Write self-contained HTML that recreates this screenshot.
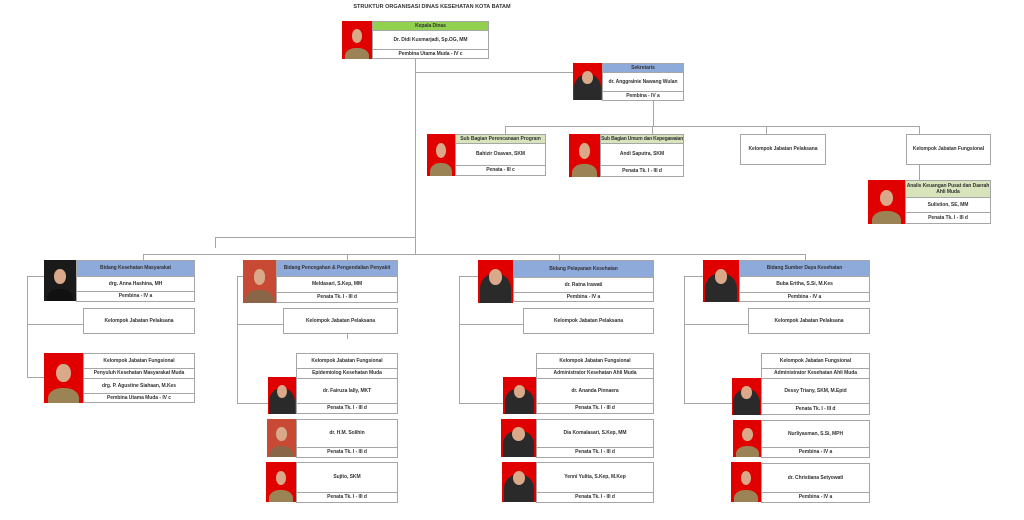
<!DOCTYPE html>
<html><head><meta charset="utf-8">
<style>
*{margin:0;padding:0;box-sizing:border-box}
body{width:1024px;height:520px;background:#fff;position:relative;overflow:hidden;font-family:"Liberation Sans",sans-serif}
.c{position:absolute;border:1px solid #a6a6a6;display:flex;align-items:center;justify-content:center;text-align:center;font-weight:bold;font-size:5px;color:#333;line-height:1.25;background:#fff;white-space:nowrap;letter-spacing:-0.05px}
.g{background:#92d050}
.b{background:#8eaadb}
.lg{background:#d8e4bc}
.h{position:absolute;height:1px;background:#a6a6a6}
.v{position:absolute;width:1px;background:#a6a6a6}
.p{position:absolute;background:#e00000;overflow:hidden}
.p::before{content:"";position:absolute;left:10%;right:10%;bottom:-15%;height:45%;border-radius:45% 45% 0 0;background:#9c8356}
.p::after{content:"";position:absolute;left:32%;width:36%;top:22%;height:36%;border-radius:50%;background:#d9a98a}
.p.hj::before{background:#2a2a2a;left:5%;right:5%;height:75%;bottom:-5%;border-radius:50% 50% 0 0}
.p.dk{background:#1a1a1a}
.p.dk::before{background:#111}
.p.br{background:#c84a35}
.p.br::before{background:#8a6648}
.t{position:absolute;left:332px;top:4px;width:200px;text-align:center;font-weight:bold;font-size:5.5px;color:#333}
</style></head><body>
<div class="t">STRUKTUR ORGANISASI DINAS KESEHATAN KOTA BATAM</div>

<div class="v" style="left:415px;top:59px;height:196px"></div>
<div class="h" style="left:415px;top:72px;width:158px"></div>
<div class="v" style="left:653px;top:100px;height:26px"></div>
<div class="h" style="left:505px;top:126px;width:414px"></div>
<div class="v" style="left:505px;top:126px;height:8px"></div>
<div class="v" style="left:652px;top:126px;height:8px"></div>
<div class="v" style="left:766px;top:126px;height:8px"></div>
<div class="v" style="left:919px;top:126px;height:8px"></div>
<div class="v" style="left:919px;top:165px;height:15px"></div>
<div class="h" style="left:215px;top:237px;width:200px"></div>
<div class="v" style="left:215px;top:237px;height:11px"></div>
<div class="h" style="left:143px;top:254px;width:662px"></div>
<div class="v" style="left:143px;top:254px;height:6px"></div>
<div class="v" style="left:347px;top:254px;height:6px"></div>
<div class="v" style="left:559px;top:254px;height:6px"></div>
<div class="v" style="left:805px;top:254px;height:6px"></div>

<div class="v" style="left:27px;top:276px;height:102px"></div>
<div class="h" style="left:27px;top:276px;width:17px"></div>
<div class="h" style="left:27px;top:324px;width:56px"></div>
<div class="h" style="left:27px;top:377px;width:17px"></div>

<div class="v" style="left:237px;top:276px;height:127px"></div>
<div class="h" style="left:237px;top:276px;width:6px"></div>
<div class="h" style="left:237px;top:324px;width:46px"></div>
<div class="h" style="left:237px;top:403px;width:31px"></div>
<div class="v" style="left:347px;top:333px;height:6px"></div>

<div class="v" style="left:459px;top:276px;height:127px"></div>
<div class="h" style="left:459px;top:276px;width:19px"></div>
<div class="h" style="left:459px;top:324px;width:64px"></div>
<div class="h" style="left:459px;top:403px;width:44px"></div>

<div class="v" style="left:684px;top:276px;height:127px"></div>
<div class="h" style="left:684px;top:276px;width:19px"></div>
<div class="h" style="left:684px;top:324px;width:64px"></div>
<div class="h" style="left:684px;top:403px;width:48px"></div>

<div class="p" style="left:342px;top:21px;width:30px;height:38px"></div>
<div class="c g" style="left:372px;top:21px;width:117px;height:10px">Kepala Dinas</div>
<div class="c" style="left:372px;top:30px;width:117px;height:20px">Dr. Didi Kusmarjadi, Sp.OG, MM</div>
<div class="c" style="left:372px;top:49px;width:117px;height:10px">Pembina Utama Muda - IV c</div>

<div class="p hj" style="left:573px;top:63px;width:29px;height:37px"></div>
<div class="c b" style="left:602px;top:63px;width:82px;height:10px">Sekretaris</div>
<div class="c" style="left:602px;top:72px;width:82px;height:20px">dr. Anggrainie Nawang Wulan</div>
<div class="c" style="left:602px;top:91px;width:82px;height:10px">Pembina - IV a</div>

<div class="p" style="left:427px;top:134px;width:28px;height:42px"></div>
<div class="c lg" style="left:455px;top:134px;width:91px;height:10px">Sub Bagian Perencanaan Program</div>
<div class="c" style="left:455px;top:143px;width:91px;height:23px">Bahizir Osavan, SKM</div>
<div class="c" style="left:455px;top:165px;width:91px;height:11px">Penata - III c</div>

<div class="p" style="left:569px;top:134px;width:31px;height:43px"></div>
<div class="c lg" style="left:600px;top:134px;width:84px;height:10px;letter-spacing:-0.2px">Sub Bagian Umum dan Kepegawaian</div>
<div class="c" style="left:600px;top:143px;width:84px;height:23px">Andi Saputra, SKM</div>
<div class="c" style="left:600px;top:165px;width:84px;height:12px">Penata Tk. I - III d</div>

<div class="c" style="left:740px;top:134px;width:86px;height:31px">Kelompok Jabatan Pelaksana</div>
<div class="c" style="left:906px;top:134px;width:85px;height:31px">Kelompok Jabatan Fungsional</div>

<div class="p" style="left:868px;top:180px;width:37px;height:44px"></div>
<div class="c lg" style="left:905px;top:180px;width:86px;height:18px">Analis Keuangan Pusat dan Daerah<br>Ahli Muda</div>
<div class="c" style="left:905px;top:197px;width:86px;height:16px">Sulistion, SE, MM</div>
<div class="c" style="left:905px;top:212px;width:86px;height:12px">Penata Tk. I - III d</div>

<div class="p dk" style="left:44px;top:260px;width:32px;height:41px"></div>
<div class="c b" style="left:76px;top:260px;width:119px;height:17px">Bidang Kesehatan Masyarakat</div>
<div class="c" style="left:76px;top:276px;width:119px;height:16px">drg. Anna Hashina, MH</div>
<div class="c" style="left:76px;top:291px;width:119px;height:11px">Pembina - IV a</div>
<div class="c" style="left:83px;top:308px;width:112px;height:26px">Kelompok Jabatan Pelaksana</div>
<div class="p" style="left:44px;top:353px;width:39px;height:50px"></div>
<div class="c" style="left:83px;top:353px;width:112px;height:16px">Kelompok Jabatan Fungsional</div>
<div class="c" style="left:83px;top:368px;width:112px;height:11px">Penyuluh Kesehatan Masyarakat Muda</div>
<div class="c" style="left:83px;top:378px;width:112px;height:16px">drg. P. Agustine Siahaan, M.Kes</div>
<div class="c" style="left:83px;top:393px;width:112px;height:10px">Pembina Utama Muda - IV c</div>

<div class="p br" style="left:243px;top:260px;width:33px;height:43px"></div>
<div class="c b" style="left:276px;top:260px;width:122px;height:17px">Bidang Pencegahan &amp; Pengendalian Penyakit</div>
<div class="c" style="left:276px;top:276px;width:122px;height:17px">Meldasari, S.Kep, MM</div>
<div class="c" style="left:276px;top:292px;width:122px;height:11px">Penata Tk. I - III d</div>
<div class="c" style="left:283px;top:308px;width:115px;height:26px">Kelompok Jabatan Pelaksana</div>
<div class="c" style="left:296px;top:353px;width:102px;height:16px">Kelompok Jabatan Fungsional</div>
<div class="c" style="left:296px;top:368px;width:102px;height:11px">Epidemiolog Kesehatan Muda</div>
<div class="p hj" style="left:268px;top:377px;width:28px;height:37px"></div>
<div class="c" style="left:296px;top:378px;width:102px;height:26px">dr. Fairuza Ially, MKT</div>
<div class="c" style="left:296px;top:403px;width:102px;height:11px">Penata Tk. I - III d</div>
<div class="p br" style="left:267px;top:419px;width:29px;height:38px"></div>
<div class="c" style="left:296px;top:419px;width:102px;height:29px">dr. H.M. Solihin</div>
<div class="c" style="left:296px;top:447px;width:102px;height:11px">Penata Tk. I - III d</div>
<div class="p" style="left:266px;top:462px;width:30px;height:40px"></div>
<div class="c" style="left:296px;top:462px;width:102px;height:31px">Sujito, SKM</div>
<div class="c" style="left:296px;top:492px;width:102px;height:11px">Penata Tk. I - III d</div>

<div class="p hj" style="left:478px;top:260px;width:35px;height:43px"></div>
<div class="c b" style="left:513px;top:260px;width:141px;height:18px">Bidang Pelayanan Kesehatan</div>
<div class="c" style="left:513px;top:277px;width:141px;height:16px">dr. Ratna Irawati</div>
<div class="c" style="left:513px;top:292px;width:141px;height:10px">Pembina - IV a</div>
<div class="c" style="left:523px;top:308px;width:131px;height:26px">Kelompok Jabatan Pelaksana</div>
<div class="c" style="left:536px;top:353px;width:118px;height:16px">Kelompok Jabatan Fungsional</div>
<div class="c" style="left:536px;top:368px;width:118px;height:11px">Administrator Kesehatan Ahli Muda</div>
<div class="p hj" style="left:503px;top:377px;width:33px;height:37px"></div>
<div class="c" style="left:536px;top:378px;width:118px;height:26px">dr. Ananda Pinnaera</div>
<div class="c" style="left:536px;top:403px;width:118px;height:11px">Penata Tk. I - III d</div>
<div class="p hj" style="left:501px;top:419px;width:35px;height:38px"></div>
<div class="c" style="left:536px;top:419px;width:118px;height:29px">Dia Komalasari, S.Kep, MM</div>
<div class="c" style="left:536px;top:447px;width:118px;height:11px">Penata Tk. I - III d</div>
<div class="p hj" style="left:502px;top:462px;width:34px;height:40px"></div>
<div class="c" style="left:536px;top:462px;width:118px;height:31px">Yenni Yulita, S.Kep, M.Kep</div>
<div class="c" style="left:536px;top:492px;width:118px;height:11px">Penata Tk. I - III d</div>

<div class="p hj" style="left:703px;top:260px;width:36px;height:42px"></div>
<div class="c b" style="left:739px;top:260px;width:131px;height:17px">Bidang Sumber Daya Kesehatan</div>
<div class="c" style="left:739px;top:276px;width:131px;height:17px">Buba Eritha, S.Si, M.Kes</div>
<div class="c" style="left:739px;top:292px;width:131px;height:10px">Pembina - IV a</div>
<div class="c" style="left:748px;top:308px;width:122px;height:26px">Kelompok Jabatan Pelaksana</div>
<div class="c" style="left:761px;top:353px;width:109px;height:16px">Kelompok Jabatan Fungsional</div>
<div class="c" style="left:761px;top:368px;width:109px;height:11px">Administrator Kesehatan Ahli Muda</div>
<div class="p hj" style="left:732px;top:378px;width:29px;height:37px"></div>
<div class="c" style="left:761px;top:378px;width:109px;height:26px">Dessy Triany, SKM, M.Epid</div>
<div class="c" style="left:761px;top:403px;width:109px;height:12px">Penata Tk. I - III d</div>
<div class="p" style="left:733px;top:420px;width:29px;height:37px"></div>
<div class="c" style="left:761px;top:420px;width:109px;height:28px">Nurliyasman, S.Si, MPH</div>
<div class="c" style="left:761px;top:447px;width:109px;height:11px">Pembina - IV a</div>
<div class="p" style="left:731px;top:462px;width:30px;height:40px"></div>
<div class="c" style="left:761px;top:463px;width:109px;height:30px">dr. Christiana Setyowati</div>
<div class="c" style="left:761px;top:492px;width:109px;height:11px">Pembina - IV a</div>
</body></html>
